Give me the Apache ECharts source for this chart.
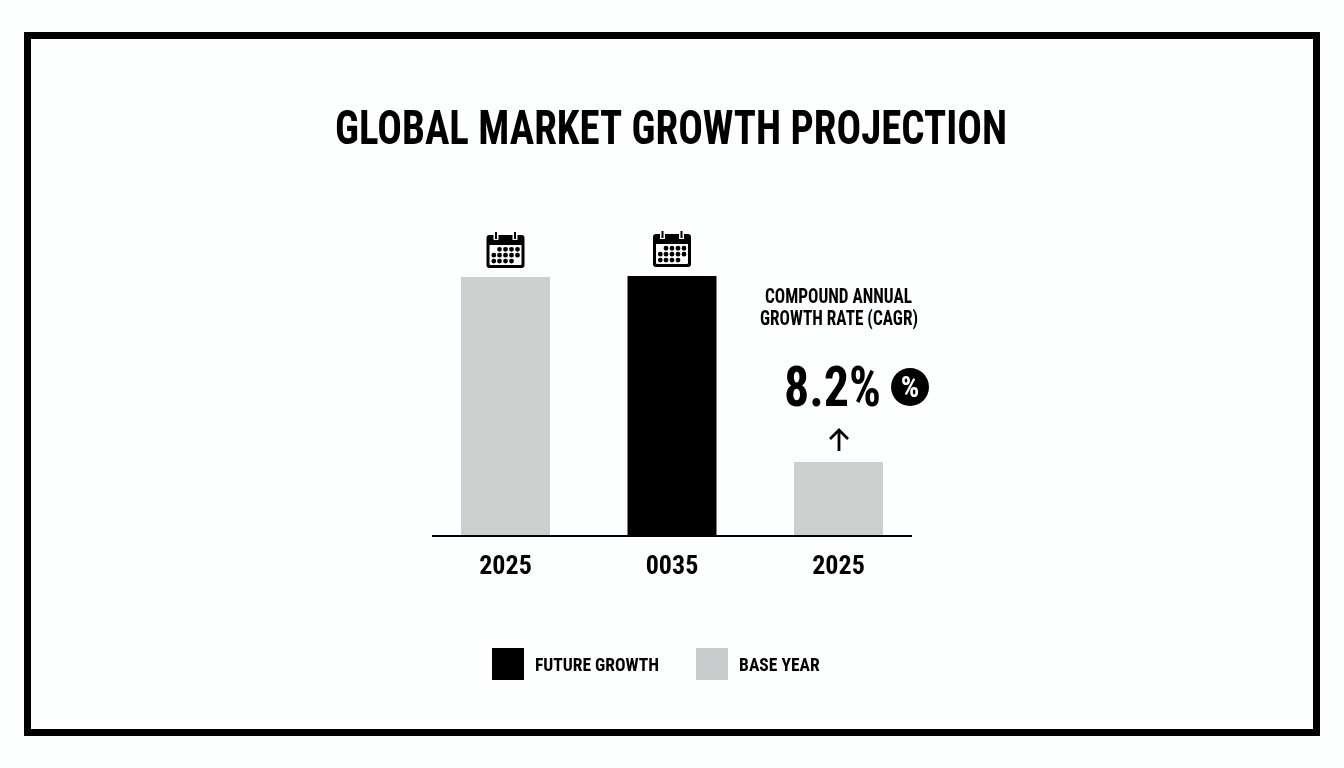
<!DOCTYPE html>
<html>
<head>
<meta charset="utf-8">
<title>Global Market Growth Projection</title>
<script src="https://cdn.jsdelivr.net/npm/echarts@6/dist/echarts.min.js"></script>
<style>
    html, body { margin: 0; padding: 0; background: #fdfefe; }
    #chart { width: 1344px; height: 768px; }
</style>
</head>
<body>
<div id="chart"></div>
<script>
const categories = ['2025', '0035', '2025'];
const baseYearValues = [100, null, 28.6];
const futureGrowthValues = [null, 100.4, null];
const iconValues = [100, 100.4, null];
const legendNames = ['FUTURE GROWTH', 'BASE YEAR'];

const titleText = 'GLOBAL MARKET GROWTH PROJECTION';
const cagrLines = ['COMPOUND ANNUAL', 'GROWTH RATE (CAGR)'];
const cagrValue = '8.2%';

const blackColor = '#000000';
const grayColor = '#cdcfcf';
const legendGray = '#c9cbcd';
const fontName = '"Roboto Condensed", "Open Sans Condensed", sans-serif';

// the reference type is narrower than any installed face, so squeeze it to the measured width
const measureCtx = document.createElement('canvas').getContext('2d');
function fitScale(text, fontSize, targetWidth) {
    measureCtx.font = `bold ${fontSize}px ${fontName}`;
    return targetWidth / measureCtx.measureText(text).width;
}

function dot(cx, cy, r) {
    return `M${cx - r} ${cy}A${r} ${r} 0 1 1 ${cx + r} ${cy}A${r} ${r} 0 1 1 ${cx - r} ${cy}Z`;
}

// calendar icon: body with a hole, rings and dots on top
function calendarPath() {
    let p = 'M3 3H35A3 3 0 0 1 38 6V33A3 3 0 0 1 35 36H3A3 3 0 0 1 0 33V6A3 3 0 0 1 3 3Z';
    p += 'M3 13V32A1 1 0 0 0 4 33H34A1 1 0 0 0 35 32V13Z';
    p += 'M7 3V8H12V3ZM26 3V8H31V3Z';
    p += 'M8.5 0H10.5V7H8.5ZM27.5 0H29.5V7H27.5Z';
    const cols = [7.3, 13, 19, 25, 31];
    const rows = [
        [1, 2, 3, 4],
        [0, 1, 2, 3, 4],
        [0, 1, 2, 3]
    ];
    rows.forEach((row, r) => {
        row.forEach(c => {
            p += dot(cols[c], 17.3 + r * 5.9, 2.4);
        });
    });
    return 'path://' + p;
}

const chart = echarts.init(document.getElementById('chart'));
chart.setOption({
    backgroundColor: '#fdfefe',
    animation: false,
    legend: {
        left: 487,
        top: 643,
        itemWidth: 32,
        itemHeight: 32,
        itemGap: 37,
        icon: 'rect',
        data: [
            { name: legendNames[0], itemStyle: { color: blackColor } },
            { name: legendNames[1], itemStyle: { color: legendGray } }
        ],
        selectedMode: false,
        formatter: name => `{t|${name}}`,
        textStyle: {
            rich: {
                t: {
                    fontFamily: fontName,
                    fontWeight: 'bold',
                    fontSize: 17.5,
                    color: blackColor,
                    padding: [6, 0, 0, 6]
                }
            }
        }
    },
    grid: { left: 422.25, width: 499.5, top: 277, height: 259 },
    xAxis: {
        type: 'category',
        data: categories,
        axisTick: { show: false },
        axisLine: { show: false },
        axisLabel: { margin: 18, fontFamily: fontName, fontWeight: 'bold', fontSize: 26, color: blackColor }
    },
    yAxis: { type: 'value', min: 0, max: 100, show: false },
    series: [
        {
            name: legendNames[1],
            type: 'bar',
            data: baseYearValues,
            barWidth: 89,
            barGap: '-100%',
            itemStyle: { color: grayColor }
        },
        {
            name: legendNames[0],
            type: 'bar',
            data: futureGrowthValues,
            barWidth: 89,
            barGap: '-100%',
            itemStyle: { color: blackColor },
            clip: false
        },
        {
            name: 'icons',
            type: 'scatter',
            data: iconValues,
            symbol: calendarPath(),
            symbolSize: [38, 36],
            symbolOffset: [0, -27],
            itemStyle: { color: blackColor, opacity: 1 },
            clip: false
        }
    ],
    graphic: [
        {
            type: 'rect',
            shape: { x: 27.5, y: 35.5, width: 1289, height: 697 },
            style: { fill: null, stroke: blackColor, lineWidth: 7 }
        },
        {
            type: 'line',
            z: 5,
            shape: { x1: 432, y1: 536, x2: 912, y2: 536 },
            style: { stroke: blackColor, lineWidth: 2 }
        },
        {
            type: 'text',
            x: 671,
            y: 132,
            scaleX: fitScale(titleText, 49, 672),
            style: {
                text: titleText,
                align: 'center',
                verticalAlign: 'middle',
                fontFamily: fontName,
                fontWeight: 'bold',
                fontSize: 49,
                fill: blackColor
            }
        },
        {
            type: 'text',
            x: 838.5,
            y: 298,
            scaleX: fitScale(cagrLines[0], 20, 147),
            style: {
                text: cagrLines[0],
                align: 'center',
                verticalAlign: 'middle',
                fontFamily: fontName,
                fontWeight: 'bold',
                fontSize: 20,
                fill: blackColor
            }
        },
        {
            type: 'text',
            x: 839,
            y: 320,
            scaleX: fitScale(cagrLines[1], 20, 158),
            style: {
                text: cagrLines[1],
                align: 'center',
                verticalAlign: 'middle',
                fontFamily: fontName,
                fontWeight: 'bold',
                fontSize: 20,
                fill: blackColor
            }
        },
        {
            type: 'text',
            x: 832.5,
            y: 392,
            scaleX: fitScale(cagrValue, 56, 97),
            style: {
                text: cagrValue,
                align: 'center',
                verticalAlign: 'middle',
                fontFamily: fontName,
                fontWeight: 'bold',
                fontSize: 56,
                fill: blackColor
            }
        },
        {
            type: 'circle',
            shape: { cx: 910, cy: 387, r: 19 },
            style: { fill: blackColor }
        },
        {
            type: 'text',
            x: 910,
            y: 390,
            style: {
                text: '%',
                align: 'center',
                verticalAlign: 'middle',
                fontFamily: fontName,
                fontWeight: 'bold',
                fontSize: 29,
                fill: '#ffffff'
            }
        },
        {
            type: 'polyline',
            shape: { points: [[839, 451], [839, 430]] },
            style: { stroke: blackColor, lineWidth: 2.8, fill: null }
        },
        {
            type: 'polyline',
            shape: { points: [[830, 439], [839, 430], [848, 439]] },
            style: { stroke: blackColor, lineWidth: 2.8, fill: null }
        }
    ]
});
</script>
</body>
</html>
